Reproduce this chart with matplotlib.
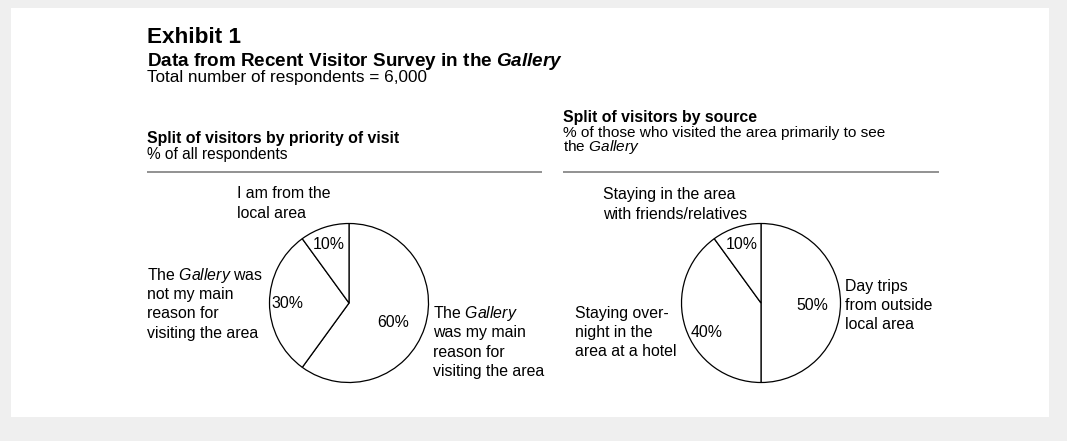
import matplotlib
matplotlib.use("Agg")
import matplotlib.pyplot as plt
from matplotlib.patches import Rectangle

plt.rcParams['font.family'] = ['Liberation Sans', 'DejaVu Sans']
plt.rcParams['mathtext.fontset'] = 'custom'
plt.rcParams['mathtext.rm'] = 'Liberation Sans'
plt.rcParams['mathtext.it'] = 'Liberation Sans:italic'
plt.rcParams['mathtext.bf'] = 'Liberation Sans:bold'
plt.rcParams['mathtext.bfit'] = 'Liberation Sans:italic:bold'

# survey results
priority_labels = [["The $\\it{Gallery}$", "was my main", "reason for", "visiting the area"],
                   ["The $\\it{Gallery}$ was", "not my main", "reason for", "visiting the area"],
                   ["I am from the", "local area"]]
priority_pct = [60, 30, 10]

source_labels = [["Day trips", "from outside", "local area"],
                 ["Staying over-", "night in the", "area at a hotel"],
                 ["Staying in the area", "with friends/relatives"]]
source_pct = [50, 40, 10]

W, H = 1067, 441
fig = plt.figure(figsize=(W / 100, H / 100), dpi=100)
fig.patch.set_facecolor('#efefef')
ax = fig.add_axes([0, 0, 1, 1])

def Y(y):
    # measure from the top edge
    return H - y

def lines(x, y0, rows, step, **kw):
    # one text per row so every baseline lands where it should
    for i, r in enumerate(rows):
        ax.text(x, Y(y0 + i * step), r, va='baseline', **kw)

ax.add_patch(Rectangle((11, Y(416.5)), 1038, 408.5, facecolor='white', edgecolor='none', zorder=0))

LBL = 11.4
ax.text(147, Y(43.3), "Exhibit 1", fontsize=16.2, fontweight='bold', va='baseline')
ax.text(147, Y(65.5), "Data from Recent Visitor Survey in the $\\mathbfit{Gallery}$",
        fontsize=13.6, fontweight='bold', va='baseline')
ax.text(147, Y(82.3), "Total number of respondents = 6,000", fontsize=12.3, va='baseline')

ax.text(147, Y(142.7), "Split of visitors by priority of visit", fontsize=11.4,
        fontweight='bold', va='baseline')
ax.text(147, Y(159.3), "% of all respondents", fontsize=11.2, va='baseline')
ax.text(563, Y(122.0), "Split of visitors by source", fontsize=11.4,
        fontweight='bold', va='baseline')
lines(563, 137.5, ["% of those who visited the area primarily to see", "the $\\it{Gallery}$"],
      13.9, fontsize=11.1)

ax.plot([147, 541.5], [Y(171.5), Y(171.5)], color='#7f7f7f', lw=1.2, solid_capstyle='butt')
ax.plot([563, 939], [Y(171.5), Y(171.5)], color='#7f7f7f', lw=1.2, solid_capstyle='butt')

R = 79.5

def draw_pie(cx, cy, values, labels, pct_pos, label_pos):
    ax.pie(values, center=(cx, Y(cy)), radius=R, startangle=90, counterclock=False,
           frame=True, wedgeprops=dict(facecolor='white', edgecolor='black', linewidth=0.9))
    for v, (dx, dy) in zip(values, pct_pos):
        ax.text(cx + dx * R, Y(cy) + dy * R, f"{v}%", fontsize=LBL, ha='center', va='center')
    for rows, (lx, ly) in zip(labels, label_pos):
        lines(lx, ly, rows, 19.2, fontsize=LBL)

draw_pie(349, 303, priority_pct, priority_labels,
         [(0.55, -0.24), (-0.78, -0.01), (-0.26, 0.74)],
         [(433, 318.3), (147, 280), (237, 198.5)])
draw_pie(761, 303, source_pct, source_labels,
         [(0.65, -0.03), (-0.68, -0.37), (-0.24, 0.74)],
         [(845, 291), (575, 318), (603, 199.5)])

ax.set_xlim(0, W)
ax.set_ylim(0, H)
ax.set_aspect('auto')
ax.axis('off')

fig.savefig('out.png', dpi=100, facecolor=fig.get_facecolor())
